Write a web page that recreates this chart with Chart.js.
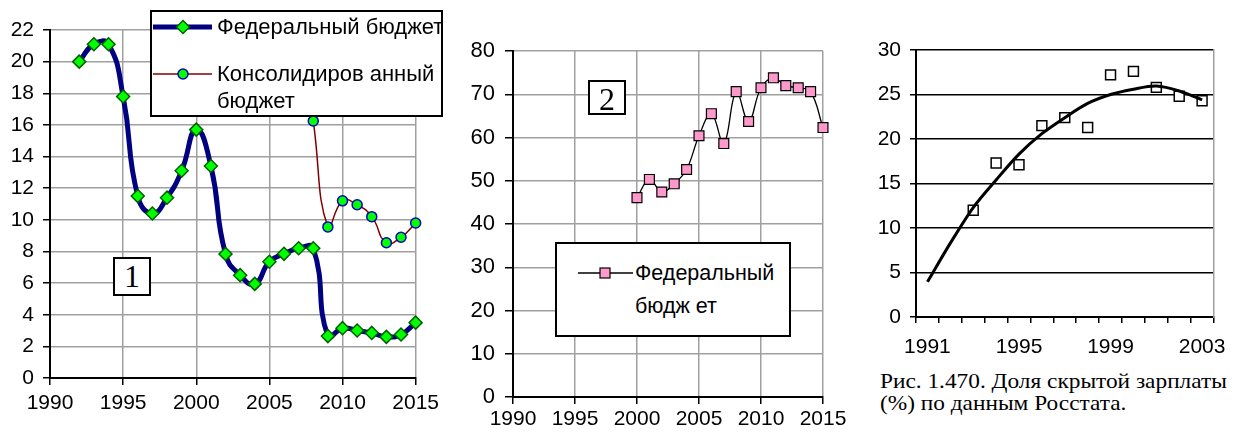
<!DOCTYPE html>
<html><head><meta charset="utf-8">
<script src="https://cdn.jsdelivr.net/npm/chart.js@4/dist/chart.umd.min.js"></script>
<style>
html,body{margin:0;padding:0;background:#fff;width:1238px;height:432px;overflow:hidden;position:relative;font-family:"Liberation Sans",Arial,sans-serif;}
canvas{position:absolute;}
.box{position:absolute;background:#fff;border:2px solid #000;box-sizing:border-box;}
.t{position:absolute;white-space:nowrap;color:#000;font-size:22px;line-height:24px;}
.num{position:absolute;background:#fff;border:2px solid #000;box-sizing:border-box;font-family:"Liberation Serif","Times New Roman",serif;font-size:32px;text-align:center;line-height:34px;}
.cap{position:absolute;font-family:"Liberation Serif","Times New Roman",serif;font-size:22px;white-space:nowrap;line-height:22px;transform:scaleX(1.06);transform-origin:0 0;}
svg{position:absolute;overflow:visible;}
</style></head><body>
<canvas id="c1" width="445" height="432" style="left:0;top:0"></canvas>
<canvas id="c2" width="400" height="432" style="left:450px;top:0"></canvas>
<canvas id="c3" width="388" height="360" style="left:850px;top:0"></canvas>

<div class="box" style="left:150px;top:10px;width:293px;height:107px;">
  <svg style="left:1px;top:15px" width="62" height="4"><line x1="0" y1="0" x2="59" y2="0" stroke="#000080" stroke-width="5"/><polygon points="30,-6.5 36.5,0 30,6.5 23.5,0" fill="#00ff00" stroke="#006000" stroke-width="1.5"/></svg>
  <div class="t" style="left:65px;top:3px;">Федеральный бюджет</div>
  <svg style="left:1px;top:62px" width="62" height="4"><line x1="0" y1="0" x2="59" y2="0" stroke="#800000" stroke-width="1.5"/><circle cx="30" cy="0" r="5" fill="#00ff00" stroke="#0000c0" stroke-width="1.5"/></svg>
  <div class="t" style="left:65px;top:50px;">Консолидиров анный</div>
  <div class="t" style="left:65px;top:77px;">бюджет</div>
</div>
<div class="num" style="left:113px;top:257px;width:38px;height:39px;">1</div>

<div class="box" style="left:555px;top:242px;width:236px;height:95px;">
  <svg style="left:21px;top:29px" width="56" height="4"><line x1="0" y1="0" x2="55" y2="0" stroke="#000" stroke-width="1.3"/><rect x="22" y="-5" width="10" height="10" fill="#ff99cc" stroke="#000" stroke-width="1.2"/></svg>
  <div class="t" style="left:78px;top:17px;font-size:21.5px;">Федеральный</div>
  <div class="t" style="left:78px;top:50px;font-size:21.5px;">бюдж ет</div>
</div>
<div class="num" style="left:588px;top:80px;width:38px;height:35px;">2</div>

<div class="cap" style="left:880px;top:370px;">Рис. 1.470. Доля скрытой зарплаты</div>
<div class="cap" style="left:880px;top:392px;">(%) по данным Росстата.</div>

<script>
// ---- Chart 1: % values, federal vs consolidated budget
const years1 = [1992,1993,1994,1995,1996,1997,1998,1999,2000,2001,2002,2003,2004,2005,2006,2007,2008,2009,2010,2011,2012,2013,2014,2015];
const federal1 = [20.0,21.1,21.1,17.8,11.5,10.4,11.4,13.1,15.7,13.4,7.84,6.5,5.95,7.35,7.85,8.2,8.2,2.65,3.15,3.0,2.85,2.6,2.75,3.5];
const consYears = [2008,2009,2010,2011,2012,2013,2014,2015];
const consolidated1 = [16.25,9.55,11.2,10.95,10.2,8.55,8.9,9.8];
const label1Fed = 'Федеральный бюджет';
const label1Cons = 'Консолидированный бюджет';

// ---- Chart 2
const years2 = [2000,2001,2002,2003,2004,2005,2006,2007,2008,2009,2010,2011,2012,2013,2014,2015];
const federal2 = [46.1,50.3,47.4,49.3,52.6,60.4,65.5,58.6,70.6,63.7,71.5,73.8,72.0,71.5,70.6,62.3];
const label2 = 'Федеральный бюджет';

// ---- Chart 3: hidden wage share (%), Rosstat
const years3 = ['1991','1992','1993','1994','1995','1996','1997','1998','1999','2000','2001','2002','2003'];
const hidden3 = [null,null,12.0,17.3,17.1,21.5,22.4,21.3,27.2,27.6,25.8,24.8,24.3];
const trend3 = [3.95,8.3,12.3,15.4,18.3,20.6,22.4,24.0,25.0,25.6,25.95,25.4,24.4];
const shownYears3 = ['1991','1995','1999','2003'];

const FAM = '"Liberation Sans", Arial, sans-serif';
const FONT = {family:FAM, size:21};
const pts = (xs, ys) => xs.map((x,i)=>({x:x, y:ys[i]}));

new Chart(document.getElementById('c1'), {
  type:'line',
  data:{datasets:[
    {label:label1Cons, data:pts(consYears,consolidated1), borderColor:'#800000', borderWidth:1.5, tension:0.5, clip:false,
     pointStyle:'circle', pointRadius:5, pointBackgroundColor:'#00ff00', pointBorderColor:'#0000c0', pointBorderWidth:1.5},
    {label:label1Fed, data:pts(years1,federal1), borderColor:'#000080', borderWidth:5, tension:0.5, clip:false,
     pointStyle:'rectRot', pointRadius:6.5, pointBackgroundColor:'#00ff00', pointBorderColor:'#006000', pointBorderWidth:1.5}
  ]},
  options:{responsive:false, animation:false, devicePixelRatio:1,
    layout:{padding:{top:30,right:29,left:0,bottom:0}},
    plugins:{legend:{display:false}, tooltip:{enabled:false}},
    scales:{
      x:{type:'linear', min:1990, max:2015, ticks:{stepSize:5, color:'#000', font:FONT, padding:6, callback:v=>String(v)},
         grid:{color:'#a0a0a0', lineWidth:1.5, tickColor:'#000', tickLength:7}, border:{color:'#000', width:2},
         afterFit:s=>{s.height=54;}},
      y:{min:0, max:22, ticks:{stepSize:2, color:'#000', font:FONT, padding:9},
         grid:{color:'#a0a0a0', lineWidth:1.5, tickColor:'#000', tickLength:7}, border:{color:'#000', width:2},
         afterFit:s=>{s.width=50;}}
    }}
});

new Chart(document.getElementById('c2'), {
  type:'line',
  data:{datasets:[
    {label:label2, data:pts(years2,federal2), borderColor:'#000', borderWidth:1.3, tension:0.4, clip:false,
     pointStyle:'rect', pointRadius:7, pointBackgroundColor:'#ff99cc', pointBorderColor:'#000', pointBorderWidth:1.2}
  ]},
  options:{responsive:false, animation:false, devicePixelRatio:1,
    layout:{padding:{top:51,right:27,left:0,bottom:0}},
    plugins:{legend:{display:false}, tooltip:{enabled:false}},
    scales:{
      x:{type:'linear', min:1990, max:2015, ticks:{stepSize:5, color:'#000', font:FONT, padding:3, callback:v=>String(v)},
         grid:{color:'#a0a0a0', lineWidth:1.5, tickColor:'#000', tickLength:7}, border:{color:'#000', width:2},
         afterFit:s=>{s.height=35;}},
      y:{min:0, max:80, ticks:{stepSize:10, color:'#000', font:{family:FAM,size:22}, padding:10},
         grid:{color:'#a0a0a0', lineWidth:1.5, tickColor:'#000', tickLength:8}, border:{color:'#000', width:2},
         afterFit:s=>{s.width=63;}}
    }}
});

new Chart(document.getElementById('c3'), {
  type:'line',
  data:{labels:years3, datasets:[
    {label:'Тренд', data:trend3, borderColor:'#000', borderWidth:3, tension:0.3, pointRadius:0},
    {label:'Доля скрытой зарплаты', data:hidden3, showLine:false, pointStyle:'rect', pointRadius:7, clip:false,
     pointBackgroundColor:'#fff', pointBorderColor:'#000', pointBorderWidth:1.5}
  ]},
  options:{responsive:false, animation:false, devicePixelRatio:1,
    layout:{padding:{top:50,right:14,left:0,bottom:0}},
    plugins:{legend:{display:false}, tooltip:{enabled:false}},
    scales:{
      x:{type:'category', offset:true,
         ticks:{autoSkip:false, maxRotation:0, color:'#000', font:FONT, padding:12,
           callback:function(v,i){const l=this.getLabelForValue(v); return shownYears3.includes(l)?l:'';}},
         grid:{offset:true, drawOnChartArea:false, tickColor:'#000', tickLength:6, lineWidth:1.5}, border:{color:'#000', width:2},
         afterFit:s=>{s.height=43;}},
      y:{min:0, max:30, ticks:{stepSize:5, color:'#000', font:FONT, padding:9},
         grid:{color:'#000', lineWidth:1.5, tickColor:'#000', tickLength:6}, border:{color:'#000', width:2},
         afterFit:s=>{s.width=66;}},
      y2:{position:'right', min:0, max:30, ticks:{display:false}, grid:{display:false}, border:{color:'#a0a0a0', width:1.5},
         afterFit:s=>{s.width=0;}}
    }}
});
</script>
</body></html>
